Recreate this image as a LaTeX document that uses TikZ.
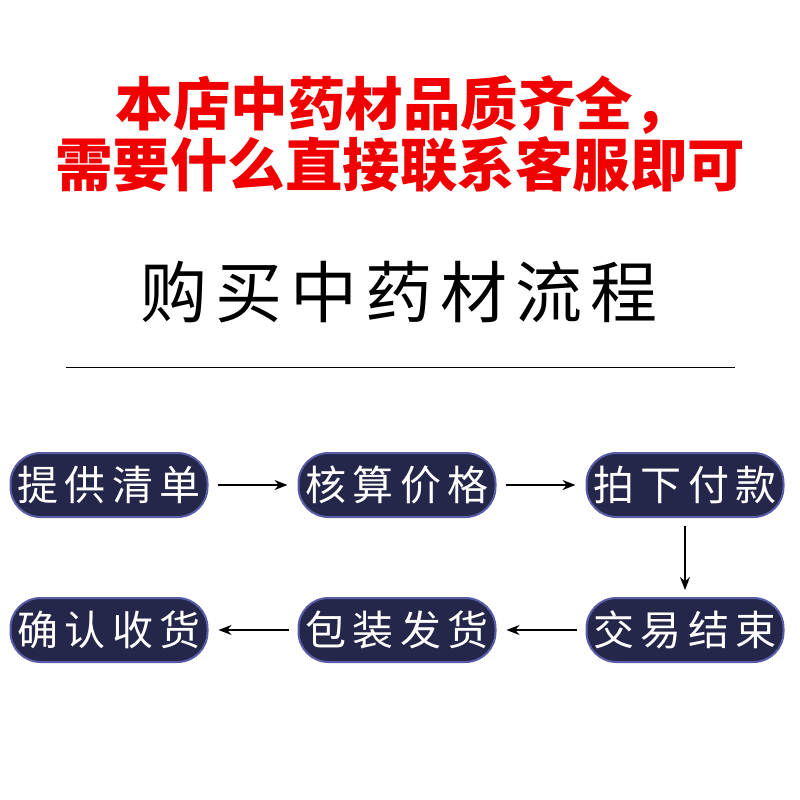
\documentclass[tikz,border=0pt]{standalone}
\usepackage{fontspec}
\usetikzlibrary{arrows.meta}
\newfontfamily\cjk{Noto Sans CJK SC}
\definecolor{navy}{HTML}{24264A}
\definecolor{rim}{HTML}{5A5EA8}
\definecolor{titlered}{HTML}{F00000}
\tikzset{
  stepbox/.style={rounded corners=30pt, fill=navy, draw=rim, line width=2pt,
    minimum width=197pt, minimum height=64pt, inner sep=0pt, text=white,
    font=\cjk\fontsize{41}{44}\selectfont\addfontfeatures{LetterSpace=16}},
  flow/.style={-{Stealth[length=13pt,width=10pt]}, line width=1.5pt, black},
  redtitle/.style={font=\cjk\bfseries\fontsize{57.5}{60}\selectfont, text=titlered}
}
\begin{document}
\begin{tikzpicture}[x=1pt,y=-1pt]
\useasboundingbox (0,0) rectangle (800,800);
\fill[white] (0,0) rectangle (800,800);
\node[redtitle] (t1) at (403,105) {本店中药材品质齐全，};
\node[redtitle] (t2) at (400,165) {需要什么直接联系客服即可};
\node[font=\cjk\fontsize{67}{70}\selectfont\addfontfeatures{LetterSpace=12}] (sub) at (399,292) {购买中药材流程};
\coordinate (la) at (66,367);
\coordinate (lb) at (735,367);
\draw[line width=1pt] (la) -- (lb);
\node[stepbox] (s1) at (109,485) {提供清单};
\node[stepbox] (s2) at (397,485) {核算价格};
\node[stepbox] (s3) at (685,485) {拍下付款};
\node[stepbox] (s4) at (685,630) {交易结束};
\node[stepbox] (s5) at (397,630) {包装发货};
\node[stepbox] (s6) at (109,630) {确认收货};
\draw[flow] ([xshift=9pt]s1.east) -- ([xshift=-10pt]s2.west);
\draw[flow] ([xshift=9pt]s2.east) -- ([xshift=-10pt]s3.west);
\draw[flow] ([yshift=-8pt]s3.south) -- ([yshift=7pt]s4.north);
\draw[flow] ([xshift=-9pt]s4.west) -- ([xshift=10pt]s5.east);
\draw[flow] ([xshift=-9pt]s5.west) -- ([xshift=10pt]s6.east);
\end{tikzpicture}
\end{document}
